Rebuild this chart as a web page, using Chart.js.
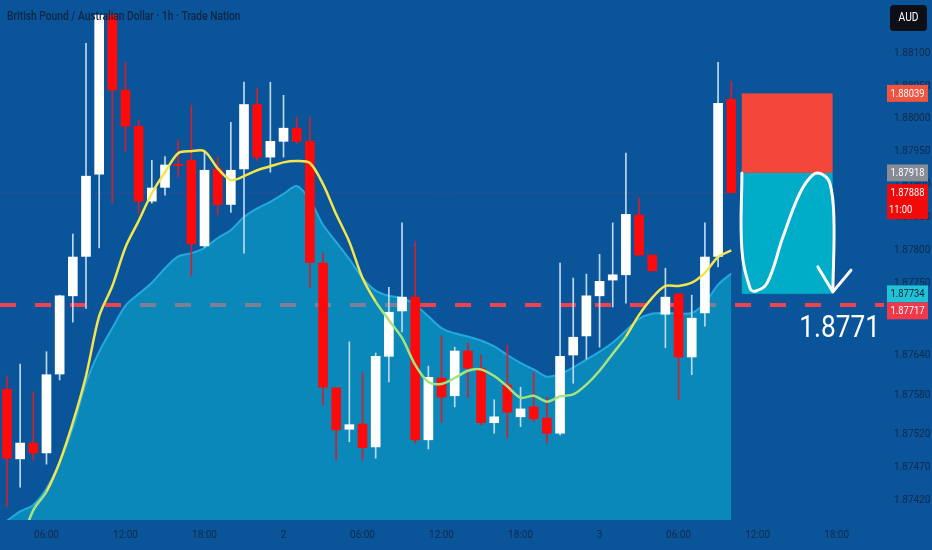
<!DOCTYPE html>
<html>
<head>
<meta charset="utf-8">
<title>GBPAUD 1h</title>
<script src="https://cdn.jsdelivr.net/npm/chart.js@4/dist/chart.umd.min.js"></script>
<style>
	html, body { margin: 0; padding: 0; background: #0a5499; }
	#wrap { width: 932px; height: 550px; }
</style>
</head>
<body>
<div id="wrap"><canvas id="chart" width="932" height="550"></canvas></div>
<script>
// hourly candles, 0 = 03:00 on the 1st
var hours = [0,1,2,3,4,5,6,7,8,9,10,11,12,13,14,15,16,17,18,19,20,21,22,23,24,25,26,27,
	28,29,30,31,32,33,34,35,36,37,38,39,40,41,42,43,44,45,46,47,48,49,50,51,52,53,54,55];
var opens = [1.87589,1.87483,1.87507,1.87492,1.87612,1.87731,1.87791,1.87916,1.88158,1.88044,
	1.87989,1.87875,1.87896,1.87931,1.87937,1.87807,1.87924,1.87870,1.87924,1.88022,
	1.87942,1.87966,1.87986,1.87966,1.87781,1.87591,1.87528,1.87536,1.87501,1.87639,
	1.87708,1.87729,1.87512,1.87606,1.87579,1.87647,1.87621,1.87538,1.87595,1.87547,
	1.87562,1.87545,1.87522,1.87641,1.87670,1.87731,1.87755,1.87763,1.87854,1.87793,
	1.87703,1.87734,1.87638,1.87705,1.87791,1.88030];
var highs = [1.87609,1.87627,1.87585,1.87646,1.87732,1.87825,1.88115,1.88158,1.88158,1.88086,
	1.87998,1.87937,1.87943,1.87968,1.88021,1.87950,1.87942,1.87995,1.88056,1.88047,
	1.88056,1.88036,1.88003,1.88003,1.87796,1.87591,1.87661,1.87614,1.87644,1.87744,
	1.87842,1.87813,1.87624,1.87670,1.87653,1.87659,1.87641,1.87573,1.87656,1.87592,
	1.87615,1.87577,1.87781,1.87758,1.87764,1.87794,1.87842,1.87948,1.87880,1.87793,
	1.87773,1.87734,1.87732,1.87842,1.88086,1.88057];
var lows = [1.87410,1.87440,1.87481,1.87475,1.87603,1.87691,1.87712,1.87804,1.87872,1.87950,
	1.87857,1.87872,1.87884,1.87912,1.87761,1.87805,1.87854,1.87858,1.87796,1.87937,
	1.87919,1.87942,1.87963,1.87743,1.87565,1.87481,1.87509,1.87481,1.87484,1.87600,
	1.87676,1.87507,1.87498,1.87538,1.87562,1.87576,1.87535,1.87522,1.87515,1.87532,
	1.87539,1.87507,1.87519,1.87598,1.87635,1.87653,1.87714,1.87720,1.87793,1.87769,
	1.87652,1.87573,1.87611,1.87685,1.87775,1.87888];
var closes = [1.87484,1.87507,1.87492,1.87611,1.87731,1.87790,1.87913,1.88158,1.88044,1.87989,
	1.87875,1.87895,1.87930,1.87929,1.87810,1.87922,1.87870,1.87922,1.88022,1.87942,
	1.87966,1.87986,1.87966,1.87782,1.87592,1.87527,1.87535,1.87500,1.87639,1.87706,
	1.87729,1.87512,1.87607,1.87577,1.87647,1.87621,1.87538,1.87547,1.87554,1.87559,
	1.87544,1.87522,1.87639,1.87668,1.87731,1.87753,1.87763,1.87855,1.87793,1.87769,
	1.87729,1.87638,1.87697,1.87790,1.88024,1.87888];

// yellow average line and the shaded average
var fastAvg = [null,1.87352,1.87405,1.87433,1.87478,1.87538,1.87609,1.87700,1.87746,1.87805,
	1.87845,1.87887,1.87919,1.87948,1.87951,1.87951,1.87925,1.87907,1.87913,1.87922,
	1.87928,1.87934,1.87936,1.87933,1.87901,1.87855,1.87813,1.87758,1.87722,1.87694,
	1.87667,1.87626,1.87600,1.87597,1.87606,1.87617,1.87619,1.87609,1.87593,1.87576,
	1.87579,1.87570,1.87578,1.87581,1.87596,1.87617,1.87643,1.87669,1.87702,1.87728,
	1.87746,1.87746,1.87751,1.87766,1.87790,1.87800];
var slowAvg = [1.87389,1.87403,1.87413,1.87438,1.87478,1.87530,1.87599,1.87646,1.87682,1.87716,
	1.87734,1.87751,1.87773,1.87791,1.87796,1.87804,1.87819,1.87831,1.87851,1.87864,
	1.87874,1.87886,1.87898,1.87877,1.87839,1.87813,1.87787,1.87758,1.87739,1.87731,
	1.87728,1.87717,1.87700,1.87682,1.87674,1.87669,1.87663,1.87654,1.87641,1.87629,
	1.87619,1.87608,1.87612,1.87622,1.87634,1.87646,1.87660,1.87678,1.87696,1.87704,
	1.87705,1.87704,1.87705,1.87720,1.87748,1.87765];

var yTicks = [1.881,1.8805,1.88,1.8795,1.879,1.8785,1.878,1.8775,1.8764,1.8758,1.8752,1.8747,1.8742];
var xTickHours = [3,9,15,21,27,33,39,45,51,57,63];
var xTickLabels = ['06:00','12:00','18:00','2','06:00','12:00','18:00','3','06:00','12:00','18:00'];

var levelPrice = 1.87717;
var levelText = '1.8771';
var lastPrice = 1.87888;
var tradeHours = [55.8, 62.7];
var stopPrice = 1.88039;
var entryPrice = 1.87918;
var targetPrice = 1.87734;
var pathHours = [55.81,55.81,56.42,56.8,57.71,58.92,60.21,61.2,61.88,62.49,62.79,62.72];
var pathPrices = [1.87918,1.87801,1.87743,1.87738,1.8775,1.8782,1.87887,1.87915,1.87916,1.87902,1.87851,1.8774];
var headHours = [61.58,62.72,64.09];
var headPrices = [1.87775,1.87737,1.8777];

var markerPrices = [1.88039, 1.87918, 1.87888, 1.87734, 1.87717];
var markerNotes = ['', '', '11:00', '', ''];
var markerFills = ['#f4533f', '#878c96', '#f20a0a', '#1fc2d6', '#f2384a'];
var markerInks = ['#ffffff', '#ffffff', '#ffffff', '#0b1f33', '#ffffff'];

var X_MIN = -0.53, X_MAX = 66.6, Y_MIN = 1.8739, Y_MAX = 1.88181;

function pts(xs, ys) {
	return xs.map(function (x, i) { return { x: x, y: ys[i] }; });
}
function up(i) { return closes[i] >= opens[i]; }

function noPad(scale) {
	scale.paddingTop = 0;
	scale.paddingBottom = 0;
	scale.paddingLeft = 0;
	scale.paddingRight = 0;
}

function narrowText(ctx, str, x, y, font, color, align, sx) {
	ctx.save();
	ctx.font = font;
	ctx.fillStyle = color;
	ctx.textAlign = align || 'left';
	ctx.textBaseline = 'middle';
	ctx.translate(x, y);
	ctx.scale(sx || 1, 1);
	ctx.fillText(str, 0, 0);
	ctx.restore();
}

var overlay = {
	id: 'overlay',
	beforeDatasetsDraw: function (chart) {
		var ctx = chart.ctx, sx = chart.scales.x, sy = chart.scales.y;
		var x0 = sx.getPixelForValue(tradeHours[0]), x1 = sx.getPixelForValue(tradeHours[1]);
		var yStop = sy.getPixelForValue(stopPrice),
			yEntry = sy.getPixelForValue(entryPrice),
			yTarget = sy.getPixelForValue(targetPrice);
		ctx.save();
		ctx.fillStyle = '#f4473b';
		ctx.fillRect(x0, yStop, x1 - x0, yEntry - yStop);
		ctx.fillStyle = '#00adc9';
		ctx.fillRect(x0, yEntry, x1 - x0, yTarget - yEntry);
		ctx.restore();
	},
	afterDraw: function (chart) {
		var ctx = chart.ctx, sy = chart.scales.y, area = chart.chartArea;

		narrowText(ctx, 'British Pound / Australian Dollar \u00b7 1h \u00b7 Trade Nation',
			7, 17, '500 13.5px Roboto', '#0f2545', 'left', 0.76);

		narrowText(ctx, levelText, area.right - 4, sy.getPixelForValue(levelPrice) + 24,
			'32px Roboto', '#ffffff', 'right', 0.82);

		// AUD badge
		ctx.save();
		ctx.fillStyle = '#0c0f16';
		ctx.beginPath();
		ctx.roundRect(area.right + 6, 5, 37, 26, 4);
		ctx.fill();
		ctx.restore();
		narrowText(ctx, 'AUD', area.right + 24.5, 18, '12px Roboto', '#ffffff', 'center', 0.85);

		// price labels on the axis
		var prevBottom = -Infinity;
		markerPrices.forEach(function (p, i) {
			var py = sy.getPixelForValue(p);
			var h = markerNotes[i] ? 35 : 17;
			var top = Math.max(py - 8.5, prevBottom);
			ctx.save();
			ctx.fillStyle = markerFills[i];
			ctx.fillRect(area.right + 3, top, 41, h);
			ctx.restore();
			narrowText(ctx, p.toFixed(5), area.right + 23.5, top + 9, '11px Roboto', markerInks[i], 'center', 0.85);
			if (markerNotes[i]) {
				narrowText(ctx, markerNotes[i], area.right + 5, top + 26, '11px Roboto', markerInks[i], 'left', 0.85);
			}
			prevBottom = top + h;
		});
	}
};

new Chart(document.getElementById('chart'), {
	type: 'bar',
	data: {
		datasets: [
			{
				type: 'line',
				data: pts([X_MIN, X_MAX], [levelPrice, levelPrice]),
				borderColor: '#f0434f',
				borderWidth: 4,
				borderDash: [16, 19],
				pointRadius: 0,
				order: 9
			},
			{
				type: 'line',
				data: pts([X_MIN, tradeHours[0]], [lastPrice, lastPrice]),
				borderColor: 'rgba(240,40,60,0.45)',
				borderWidth: 1,
				borderDash: [1, 3],
				pointRadius: 0,
				order: 8
			},
			{
				type: 'line',
				data: pts(hours, slowAvg),
				borderColor: 'rgba(40,175,228,0.9)',
				borderWidth: 2,
				backgroundColor: 'rgba(12,187,219,0.5)',
				fill: 'start',
				tension: 0.3,
				pointRadius: 0,
				order: 7
			},
			{
				data: pts(hours, lows.map(function (l, i) { return [l, highs[i]]; })),
				backgroundColor: hours.map(function (h, i) { return up(i) ? '#bfd8f4' : '#d3202c'; }),
				barThickness: 1,
				grouped: false,
				order: 6
			},
			{
				data: pts(hours, opens.map(function (o, i) { return [o, closes[i]]; })),
				backgroundColor: hours.map(function (h, i) { return up(i) ? '#ffffff' : '#ff0a0a'; }),
				barThickness: 9,
				grouped: false,
				order: 5
			},
			{
				type: 'line',
				data: pts(hours, fastAvg),
				borderWidth: 2.5,
				borderColor: '#f3e54b',
				segment: {
					borderColor: function (c) {
						var i = c.p0DataIndex;
						return (fastAvg[i] < slowAvg[i] && fastAvg[i + 1] < slowAvg[i + 1]) ? '#a6e27e' : '#f3e54b';
					}
				},
				tension: 0.3,
				pointRadius: 0,
				order: 4
			},
			{
				type: 'line',
				data: pts(pathHours, pathPrices),
				borderColor: '#ffffff',
				borderWidth: 3,
				tension: 0.4,
				borderCapStyle: 'round',
				pointRadius: 0,
				order: 1
			},
			{
				type: 'line',
				data: pts(headHours, headPrices),
				borderColor: '#ffffff',
				borderWidth: 3,
				borderCapStyle: 'round',
				borderJoinStyle: 'round',
				pointRadius: 0,
				order: 0
			}
		]
	},
	options: {
		responsive: false,
		animation: false,
		layout: { padding: 0, autoPadding: false },
		plugins: { legend: { display: false }, tooltip: { enabled: false } },
		scales: {
			x: {
				type: 'linear',
				min: X_MIN,
				max: X_MAX,
				offset: false,
				grid: { display: false, drawTicks: false },
				border: { display: false },
				afterBuildTicks: function (scale) {
					scale.ticks = xTickHours.map(function (v) { return { value: v }; });
				},
				afterFit: function (scale) { scale.height = 30; noPad(scale); },
				ticks: {
					autoSkip: false,
					maxRotation: 0,
					padding: 9,
					color: '#12294a',
					font: { family: 'Roboto', size: 10 },
					callback: function (v, i) { return xTickLabels[i]; }
				}
			},
			y: {
				position: 'right',
				min: Y_MIN,
				max: Y_MAX,
				grid: { display: false, drawTicks: false },
				border: { display: false },
				afterBuildTicks: function (scale) {
					scale.ticks = yTicks.map(function (v) { return { value: v }; });
				},
				afterFit: function (scale) { scale.width = 48; noPad(scale); },
				ticks: {
					padding: 10,
					color: '#12294a',
					font: { family: 'Roboto', size: 10 },
					callback: function (v) { return v.toFixed(5); }
				}
			}
		}
	},
	plugins: [overlay]
});
</script>
</body>
</html>
